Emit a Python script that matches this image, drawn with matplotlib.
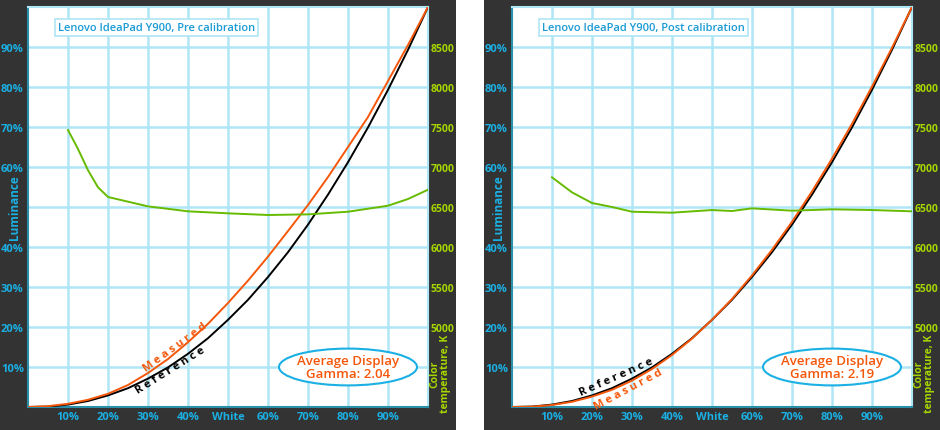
import numpy as np
import matplotlib
matplotlib.use("Agg")
import matplotlib.pyplot as plt
from matplotlib.patches import Rectangle, Ellipse

plt.rcParams['font.family'] = ['Open Sans', 'DejaVu Sans']
plt.rcParams['font.weight'] = 'bold'

# datos
levels = np.arange(0, 101, 5) / 100.0
ref_lum = [0, 0.001, 0.006, 0.015, 0.029, 0.047, 0.071, 0.099, 0.133, 0.172, 0.218,
           0.268, 0.325, 0.387, 0.456, 0.531, 0.612, 0.699, 0.793, 0.893, 1.0]
pre_lum = [0, 0.002, 0.008, 0.018, 0.033, 0.055, 0.085, 0.12, 0.162, 0.208, 0.26,
           0.316, 0.376, 0.44, 0.505, 0.575, 0.65, 0.725, 0.815, 0.905, 1.0]
post_lum = [0, 0.0008, 0.005, 0.013, 0.026, 0.043, 0.066, 0.095, 0.130, 0.171, 0.218,
            0.270, 0.329, 0.393, 0.463, 0.539, 0.621, 0.708, 0.801, 0.898, 1.0]

pre_temp_x = [0.10, 0.125, 0.15, 0.175, 0.20, 0.30, 0.40, 0.50, 0.60, 0.70, 0.80,
              0.90, 0.95, 1.00]
pre_temp = [7462, 7225, 6960, 6746, 6625, 6508, 6446, 6421, 6400, 6408, 6441,
            6516, 6600, 6716]
post_temp_x = [0.10, 0.15, 0.20, 0.25, 0.30, 0.40, 0.50, 0.55, 0.60, 0.70, 0.80, 0.90, 1.00]
post_temp = [6871, 6683, 6550, 6500, 6441, 6429, 6462, 6450, 6483, 6454, 6471, 6462, 6446]

x_ticks = [0.1, 0.2, 0.3, 0.4, 0.5, 0.6, 0.7, 0.8, 0.9]
x_labels = ['10%', '20%', '30%', '40%', 'White', '60%', '70%', '80%', '90%']
y_ticks = [0.1, 0.2, 0.3, 0.4, 0.6, 0.7, 0.8, 0.9]
y_labels = ['10%', '20%', '30%', '40%', '60%', '70%', '80%', '90%']
temp_ticks = [5000, 5500, 6000, 6500, 7000, 7500, 8000, 8500]

panels = [
    dict(title='Lenovo IdeaPad Y900, Pre calibration', meas=pre_lum,
         tx=pre_temp_x, temp=pre_temp, gamma='2.04',
         meas_lbl=(0.368, 0.15, 36), ref_lbl=(0.356, 0.092, 32)),
    dict(title='Lenovo IdeaPad Y900, Post calibration', meas=post_lum,
         tx=post_temp_x, temp=post_temp, gamma='2.19',
         meas_lbl=(0.29, 0.045, 28), ref_lbl=(0.26, 0.077, 24)),
]

CYAN = '#1bb0e3'
LIME = '#a6d600'
ORANGE = '#f5570a'
GREEN = '#66bb00'
GRID = '#aee6f5'
DARK = '#333333'

W, H = 940, 431
fig = plt.figure(figsize=(9.4, 4.31), dpi=100, facecolor='white')

# fondos oscuros
fig.patches.append(Rectangle((0, 0), 456 / W, 1, transform=fig.transFigure,
                             facecolor=DARK, edgecolor='none', zorder=-5))
fig.patches.append(Rectangle((484 / W, 0), 1 - 484 / W, 1, transform=fig.transFigure,
                             facecolor=DARK, edgecolor='none', zorder=-5))

lefts = [28, 512]
for p, lx in zip(panels, lefts):
    ax = fig.add_axes([lx / W, 23 / H, 400 / W, 400 / H])
    ax.set_facecolor('white')
    ax.set_xlim(0, 1)
    ax.set_ylim(0, 1)
    # rejilla cada 10%
    for g in np.arange(0.1, 0.95, 0.1):
        ax.axvline(g, color=GRID, linewidth=1.8, zorder=1)
        ax.axhline(g, color=GRID, linewidth=1.8, zorder=1)
    ax.set_xticks(x_ticks, labels=x_labels, fontweight='bold')
    ax.set_yticks(y_ticks, labels=y_labels, fontweight='bold')
    ax.tick_params(length=0, colors=CYAN, labelsize=8, pad=3)
    for s in ['left', 'bottom']:
        ax.spines[s].set_color('#2a8fa8')
        ax.spines[s].set_linewidth(1.5)
    for s in ['top', 'right']:
        ax.spines[s].set_color(GRID)
        ax.spines[s].set_linewidth(1.5)

    ax.plot(levels, ref_lum, color='black', linewidth=1.4, zorder=3)
    ax.plot(levels, p['meas'], color=ORANGE, linewidth=1.4, zorder=4)

    mx, my, mr = p['meas_lbl']
    ax.text(mx, my, ' '.join('Measured'), color=ORANGE, fontsize=8,
            fontweight='bold', rotation=mr, ha='center', va='center',
            rotation_mode='anchor', zorder=5)
    rx, ry, rr = p['ref_lbl']
    ax.text(rx, ry, ' '.join('Reference'), color='black', fontsize=8,
            fontweight='bold', rotation=rr, ha='center', va='center',
            rotation_mode='anchor', zorder=5)

    ax.text(0.075, 0.949, p['title'], transform=ax.transAxes, color='#1a9bd4',
            fontsize=8, fontweight='semibold', ha='left', va='center', zorder=6,
            bbox=dict(boxstyle='square,pad=0.25', facecolor='white',
                      edgecolor=GRID, linewidth=1.2))

    ax.add_patch(Ellipse((0.8, 0.1), 0.345, 0.092, transform=ax.transAxes,
                         facecolor='white', edgecolor=CYAN, linewidth=1.5, zorder=6))
    ax.text(0.8, 0.1, 'Average Display\nGamma: ' + p['gamma'], transform=ax.transAxes,
            color=ORANGE, fontsize=9.5, fontweight='semibold', ha='center', va='center',
            linespacing=1.05, zorder=7)

    ax.text(-0.034, 0.5, 'Luminance', transform=ax.transAxes, color=CYAN,
            fontsize=8.5, fontweight='bold', rotation=90, ha='center', va='center')

    ax2 = ax.twinx()
    ax2.set_ylim(4000, 9000)
    ax2.set_yticks(temp_ticks, labels=[str(t) for t in temp_ticks], fontweight='bold')
    ax2.tick_params(length=0, colors=LIME, labelsize=7.5, pad=2)
    for s in ax2.spines.values():
        s.set_visible(False)
    ax2.plot(p['tx'], p['temp'], color=GREEN, linewidth=1.4)
    ax2.text(1.03, 0.085, 'Color\ntemperature, K', transform=ax.transAxes,
             color=LIME, fontsize=7.5, fontweight='bold', rotation=90,
             ha='center', va='center', multialignment='center', linespacing=0.9)

fig.savefig('out.png', dpi=100, facecolor='white')
